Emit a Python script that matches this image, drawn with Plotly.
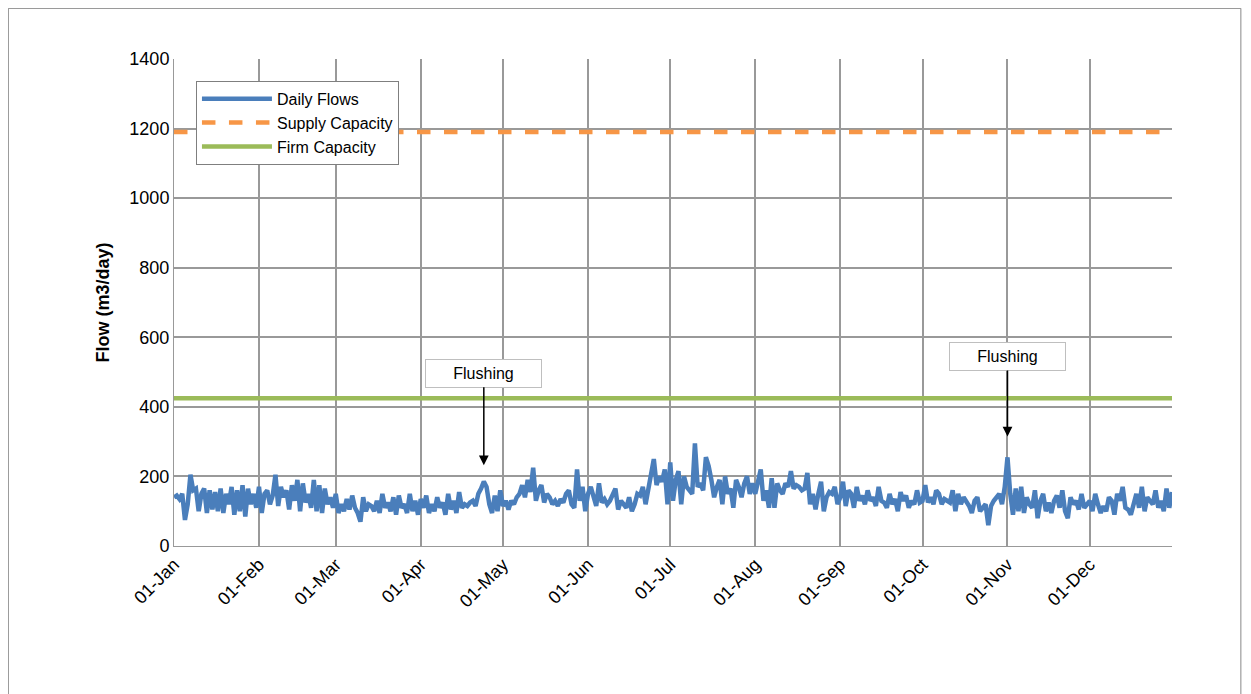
import pandas as pd
import plotly.graph_objects as go

# Daily flows (m3/day)
jan = [140, 145, 135, 150, 75, 120, 205, 160, 165, 100, 150, 165, 95, 160, 105, 155, 100, 165, 95, 150, 120, 170, 90, 160, 100, 175, 85, 165, 120, 150, 110]
feb = [170, 95, 150, 160, 120, 145, 205, 115, 170, 140, 160, 105, 175, 130, 190, 100, 180, 125, 150, 110, 190, 100, 175, 95, 165, 120, 140, 110]
mar = [150, 95, 120, 100, 135, 105, 145, 110, 95, 70, 140, 100, 120, 115, 100, 130, 95, 150, 110, 125, 100, 140, 90, 145, 110, 120, 95, 150, 100, 130, 90]
apr = [135, 110, 145, 95, 120, 100, 140, 110, 125, 90, 150, 105, 130, 95, 155, 110, 120, 115, 125, 130, 115, 150, 165, 185, 170, 120, 95, 145, 100, 160]
may = [115, 130, 105, 130, 120, 140, 150, 175, 140, 190, 155, 225, 130, 160, 175, 125, 150, 140, 120, 130, 115, 135, 125, 150, 160, 120, 110, 220, 130, 170, 100]
jun = [150, 170, 140, 115, 180, 125, 135, 120, 130, 150, 165, 105, 130, 120, 110, 140, 100, 120, 150, 145, 170, 120, 170, 210, 250, 175, 200, 185, 220, 120]
jul = [240, 130, 190, 215, 120, 200, 170, 160, 150, 295, 170, 180, 160, 255, 230, 190, 140, 170, 190, 120, 200, 150, 165, 110, 190, 170, 140, 180, 200, 150, 180]
aug = [150, 190, 220, 130, 160, 110, 195, 110, 180, 160, 150, 180, 170, 215, 165, 175, 170, 160, 165, 210, 120, 150, 105, 150, 185, 100, 140, 155, 150, 170, 120]
sep = [140, 185, 115, 160, 150, 110, 170, 130, 145, 120, 160, 130, 140, 115, 170, 130, 125, 110, 150, 120, 135, 100, 155, 130, 145, 110, 130, 120, 160, 125]
oct_ = [130, 175, 125, 140, 120, 160, 150, 120, 135, 130, 125, 160, 100, 150, 120, 140, 130, 115, 95, 130, 140, 100, 110, 120, 60, 115, 130, 140, 150, 120, 170]
nov = [255, 150, 90, 165, 100, 170, 95, 140, 120, 110, 160, 80, 130, 150, 100, 125, 95, 130, 145, 110, 160, 100, 80, 140, 120, 130, 105, 150, 110, 120]
dec = [130, 100, 150, 120, 95, 115, 100, 140, 130, 90, 150, 130, 170, 110, 105, 90, 120, 150, 110, 170, 100, 140, 130, 120, 160, 110, 130, 100, 165, 110, 155]

supply_capacity = 1190
firm_capacity = 425
flushing_dates = ["2021-04-24", "2021-11-01"]
flushing_tips = [232, 315]

flows = jan + feb + mar + apr + may + jun + jul + aug + sep + oct_ + nov + dec
dates = pd.date_range("2021-01-01", periods=len(flows), freq="D")

fig = go.Figure()
fig.add_trace(go.Scatter(x=dates, y=flows, mode="lines", name="Daily Flows",
                         line=dict(color="#4a7ebb", width=4.5)))
fig.add_trace(go.Scatter(x=[dates[0], dates[-1]], y=[supply_capacity] * 2, mode="lines",
                         name="Supply Capacity",
                         line=dict(color="#f79646", width=4.5, dash="dash")))
fig.add_trace(go.Scatter(x=[dates[0], dates[-1]], y=[firm_capacity] * 2, mode="lines",
                         name="Firm Capacity", line=dict(color="#9bbb59", width=4.5)))

for d, tip, off in zip(flushing_dates, flushing_tips, [-92, -80]):
    fig.add_annotation(x=d, y=tip, text="Flushing", showarrow=True, ax=0, ay=off,
                       arrowhead=2, arrowsize=1.3, arrowwidth=1.5, arrowcolor="black",
                       bordercolor="#bfbfbf", borderwidth=1, bgcolor="white", borderpad=5,
                       width=105, font=dict(size=16, color="black"))

fig.update_layout(
    width=1251, height=694,
    margin=dict(l=166, r=87, t=51, b=156),
    plot_bgcolor="white", paper_bgcolor="white",
    font=dict(family="Liberation Sans, Arial", size=18, color="black"),
    showlegend=True,
    legend=dict(x=0.022, y=0.955, xanchor="left", yanchor="top", bgcolor="white",
                bordercolor="#7f7f7f", borderwidth=1, font=dict(size=16),
                itemwidth=70, tracegroupgap=8),
    shapes=[dict(type="rect", xref="paper", yref="paper", x0=-0.166, x1=1.069,
                 y0=-0.35, y1=1.104, line=dict(color="#888888", width=1))],
)
fig.update_xaxes(range=[dates[0], dates[-1]], dtick="M1", tick0="2021-01-01",
                 tickformat="%d-%b", tickangle=-45, showgrid=True, gridcolor="#999999",
                 gridwidth=2, linecolor="#999999", linewidth=1, ticks="",
                 tickfont=dict(size=18))
fig.update_yaxes(range=[0, 1400], dtick=200, showgrid=True, gridcolor="#999999",
                 gridwidth=2, linecolor="#999999", title=dict(text="<b>Flow (m3/day)</b>",
                 font=dict(size=18)), zeroline=False, ticks="")

fig.write_html("out.html")
